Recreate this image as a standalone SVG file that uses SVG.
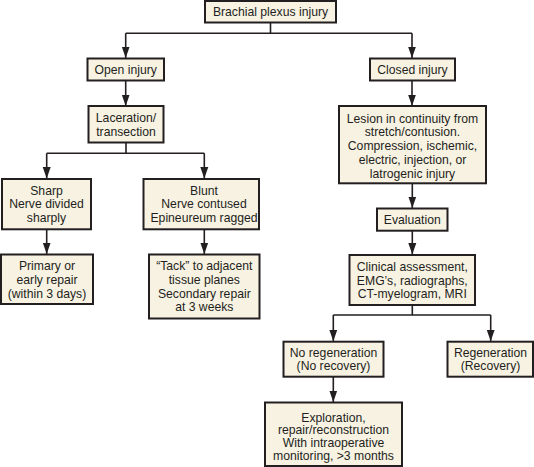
<svg xmlns="http://www.w3.org/2000/svg" width="534" height="467" viewBox="0 0 534 467">
<style>
.box{fill:#f8f2e3;stroke:#231f20;stroke-width:2}
.t{font-family:"Liberation Sans",Arial,sans-serif;font-size:12.2px;fill:#231f20;text-anchor:middle}
.c{fill:none;stroke:#231f20;stroke-width:1.6}
.a{fill:none;stroke:#231f20;stroke-width:1.6;marker-end:url(#ah)}
</style>
<defs>
<marker id="ah" markerUnits="userSpaceOnUse" markerWidth="9" markerHeight="12" viewBox="0 0 9 12" refX="4.5" refY="11.5" orient="0">
<path d="M0.5,0 L8.5,0 L4.5,11.5 Z" fill="#231f20"/>
</marker>
</defs>
<g id="connectors">
<path class="c" d="M270.5,22 V33.3 M125.7,33.3 H412"/>
<path class="a" d="M125.7,33.3 V58"/>
<path class="a" d="M412,33.3 V58"/>
<path class="a" d="M125.7,80.7 V106"/>
<path class="a" d="M412,80.7 V106"/>
<path class="c" d="M126,142.7 V153.3 M46.7,153.3 H204.3"/>
<path class="a" d="M46.7,153.3 V178.5"/>
<path class="a" d="M204.3,153.3 V178.5"/>
<path class="a" d="M46.7,229.3 V254"/>
<path class="a" d="M204.3,229.3 V254"/>
<path class="a" d="M412.3,183.3 V208"/>
<path class="a" d="M412.3,230.7 V254.5"/>
<path class="c" d="M412.3,305 V315 M333.3,315 H490.7"/>
<path class="a" d="M333.3,315 V341.2"/>
<path class="a" d="M490.7,315 V341.2"/>
<path class="a" d="M333.3,376.7 V402"/>
</g>
<g id="n-brachial"><rect class="box" x="205" y="1" width="131" height="21.5"/><text class="t" x="270.5" y="16.3">Brachial plexus injury</text></g>
<g id="n-open"><rect class="box" x="87.5" y="58.5" width="76.5" height="22"/><text class="t" x="125.7" y="74">Open injury</text></g>
<g id="n-closed"><rect class="box" x="370" y="58.5" width="85" height="22"/><text class="t" x="412.5" y="74">Closed injury</text></g>
<g id="n-laceration"><rect class="box" x="88.5" y="106" width="75" height="36.5"/><text class="t" x="126" y="122">Laceration/</text><text class="t" x="126" y="135.5">transection</text></g>
<g id="n-lesion"><rect class="box" x="339" y="106" width="147" height="77.3"/><text class="t" x="412.5" y="122.5">Lesion in continuity from</text><text class="t" x="412.5" y="136.3">stretch/contusion.</text><text class="t" x="412.5" y="150">Compression, ischemic,</text><text class="t" x="412.5" y="163.8">electric, injection, or</text><text class="t" x="412.5" y="177.5">latrogenic injury</text></g>
<g id="n-sharp"><rect class="box" x="2" y="179" width="89" height="50.3"/><text class="t" x="46.5" y="195">Sharp</text><text class="t" x="46.5" y="208.4">Nerve divided</text><text class="t" x="46.5" y="221.7">sharply</text></g>
<g id="n-blunt"><rect class="box" x="143.5" y="179" width="115.5" height="50.3"/><text class="t" x="204" y="195">Blunt</text><text class="t" x="204" y="208.4">Nerve contused</text><text class="t" x="204" y="221.7">Epineureum ragged</text></g>
<g id="n-primary"><rect class="box" x="1" y="254.5" width="92" height="49.5"/><text class="t" x="47" y="270.3">Primary or</text><text class="t" x="47" y="283.7">early repair</text><text class="t" x="47" y="297.5">(within 3 days)</text></g>
<g id="n-tack"><rect class="box" x="149" y="254.5" width="110.5" height="64"/><text class="t" x="204.3" y="270.3">“Tack” to adjacent</text><text class="t" x="204.3" y="283.7">tissue planes</text><text class="t" x="204.3" y="297.5">Secondary repair</text><text class="t" x="204.3" y="311">at 3 weeks</text></g>
<g id="n-evaluation"><rect class="box" x="377" y="208.5" width="70.5" height="22.2"/><text class="t" x="412.3" y="223.6">Evaluation</text></g>
<g id="n-clinical"><rect class="box" x="349.5" y="255" width="125.5" height="50"/><text class="t" x="412.3" y="271">Clinical assessment,</text><text class="t" x="412.3" y="285">EMG’s, radiographs,</text><text class="t" x="412.3" y="298.4">CT-myelogram, MRI</text></g>
<g id="n-noregen"><rect class="box" x="283.5" y="341.7" width="100" height="35"/><text class="t" x="333.5" y="357">No regeneration</text><text class="t" x="333.5" y="370.4">(No recovery)</text></g>
<g id="n-regen"><rect class="box" x="447.5" y="341.7" width="85.5" height="35"/><text class="t" x="490.5" y="357">Regeneration</text><text class="t" x="490.5" y="370.4">(Recovery)</text></g>
<g id="n-exploration"><rect class="box" x="265" y="402.5" width="137" height="63.5"/><text class="t" x="333.5" y="421.7">Exploration,</text><text class="t" x="333.5" y="434.4">repair/reconstruction</text><text class="t" x="333.5" y="447.2">With intraoperative</text><text class="t" x="333.5" y="460.4">monitoring, &gt;3 months</text></g>
</svg>
